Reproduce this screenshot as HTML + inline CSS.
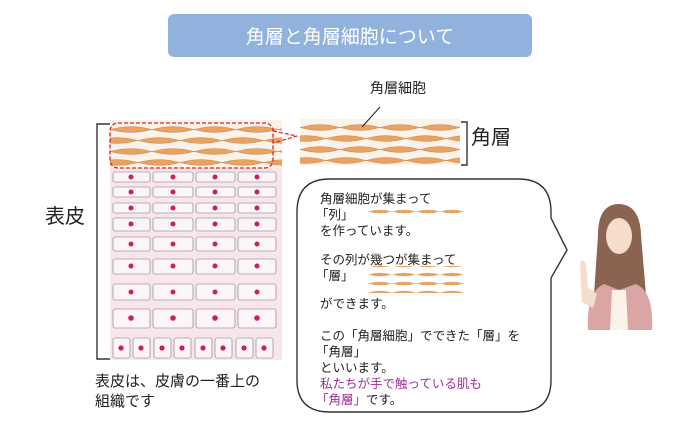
<!DOCTYPE html>
<html><head><meta charset="utf-8"><style>
body{margin:0;background:#fff;width:700px;height:422px;overflow:hidden;font-family:"Liberation Sans","Noto Sans CJK JP",sans-serif}
svg text{font-family:"Liberation Sans","Noto Sans CJK JP",sans-serif}
</style></head><body>
<svg width="700" height="422" viewBox="0 0 700 422" xmlns="http://www.w3.org/2000/svg">
<defs>
<pattern id="pL" x="110" y="124" width="42" height="22" patternUnits="userSpaceOnUse">
<path d="M0 5.5 Q21 -0.5 42 5.5 Q21 11.5 0 5.5Z M28 16.5 Q49 10.5 70 16.5 Q49 22.5 28 16.5Z M-14 16.5 Q7 10.5 28 16.5 Q7 22.5 -14 16.5Z" fill="#e8a262" stroke="#b98050" stroke-width="0.4"/>
</pattern>
<pattern id="pR" x="300" y="122" width="40" height="22" patternUnits="userSpaceOnUse">
<path d="M0 5.5 Q20 -0.5 40 5.5 Q20 11.5 0 5.5Z M26 16.5 Q46 10.5 66 16.5 Q46 22.5 26 16.5Z M-14 16.5 Q6 10.5 26 16.5 Q6 22.5 -14 16.5Z" fill="#e8a262" stroke="#b98050" stroke-width="0.4"/>
</pattern>
<pattern id="pB" x="368" y="0" width="24" height="9" patternUnits="userSpaceOnUse">
<path d="M0 4.5 Q12 1 24 4.5 Q12 8 0 4.5Z" fill="#e8a262"/>
</pattern>
</defs>
<rect x="168" y="14" width="364" height="43" rx="6" fill="#91b2dc"/>
<text x="350" y="43" font-size="19" fill="#fff" text-anchor="middle">角層と角層細胞について</text>
<!-- epidermis -->
<rect x="110" y="168" width="172" height="192" fill="#f9e6ea"/>
<g fill="#fcf5f7" stroke="#777" stroke-width="0.6">
<rect x="113" y="172" width="37" height="10" rx="2"/><rect x="153" y="172" width="40" height="10" rx="2"/><rect x="196" y="172" width="39" height="10" rx="2"/><rect x="238" y="172" width="38" height="10" rx="2"/>
<rect x="113" y="187" width="37" height="10" rx="2"/><rect x="153" y="187" width="40" height="10" rx="2"/><rect x="196" y="187" width="39" height="10" rx="2"/><rect x="238" y="187" width="38" height="10" rx="2"/>
<rect x="113" y="203" width="37" height="10" rx="2"/><rect x="153" y="203" width="40" height="10" rx="2"/><rect x="196" y="203" width="39" height="10" rx="2"/><rect x="238" y="203" width="38" height="10" rx="2"/>
<rect x="113" y="218" width="37" height="13" rx="2"/><rect x="153" y="218" width="40" height="13" rx="2"/><rect x="196" y="218" width="39" height="13" rx="2"/><rect x="238" y="218" width="38" height="13" rx="2"/>
<rect x="113" y="237" width="37" height="14" rx="2"/><rect x="153" y="237" width="40" height="14" rx="2"/><rect x="196" y="237" width="39" height="14" rx="2"/><rect x="238" y="237" width="38" height="14" rx="2"/>
<rect x="113" y="259" width="37" height="15" rx="2"/><rect x="153" y="259" width="40" height="15" rx="2"/><rect x="196" y="259" width="39" height="15" rx="2"/><rect x="238" y="259" width="38" height="15" rx="2"/>
<rect x="113" y="284" width="37" height="16" rx="2"/><rect x="153" y="284" width="40" height="16" rx="2"/><rect x="196" y="284" width="39" height="16" rx="2"/><rect x="238" y="284" width="38" height="16" rx="2"/>
<rect x="113" y="309" width="37" height="19" rx="2"/><rect x="153" y="309" width="40" height="19" rx="2"/><rect x="196" y="309" width="39" height="19" rx="2"/><rect x="238" y="309" width="38" height="19" rx="2"/>
<rect x="113" y="338" width="17" height="20" rx="2"/><rect x="133" y="338" width="17" height="20" rx="2"/><rect x="154" y="338" width="17" height="20" rx="2"/><rect x="174" y="338" width="17" height="20" rx="2"/><rect x="195" y="338" width="17" height="20" rx="2"/><rect x="215" y="338" width="17" height="20" rx="2"/><rect x="236" y="338" width="17" height="20" rx="2"/><rect x="256" y="338" width="17" height="20" rx="2"/>
</g>
<g fill="#c8205f">
<circle cx="131" cy="177" r="2.5"/><circle cx="173" cy="177" r="2.5"/><circle cx="215" cy="177" r="2.5"/><circle cx="257" cy="177" r="2.5"/>
<circle cx="131" cy="192" r="2.5"/><circle cx="173" cy="192" r="2.5"/><circle cx="215" cy="192" r="2.5"/><circle cx="257" cy="192" r="2.5"/>
<circle cx="131" cy="208" r="2.5"/><circle cx="173" cy="208" r="2.5"/><circle cx="215" cy="208" r="2.5"/><circle cx="257" cy="208" r="2.5"/>
<circle cx="131" cy="224" r="2.5"/><circle cx="173" cy="224" r="2.5"/><circle cx="215" cy="224" r="2.5"/><circle cx="257" cy="224" r="2.5"/>
<circle cx="131" cy="244" r="2.5"/><circle cx="173" cy="244" r="2.5"/><circle cx="215" cy="244" r="2.5"/><circle cx="257" cy="244" r="2.5"/>
<circle cx="131" cy="266" r="2.5"/><circle cx="173" cy="266" r="2.5"/><circle cx="215" cy="266" r="2.5"/><circle cx="257" cy="266" r="2.5"/>
<circle cx="131" cy="292" r="2.5"/><circle cx="173" cy="292" r="2.5"/><circle cx="215" cy="292" r="2.5"/><circle cx="257" cy="292" r="2.5"/>
<circle cx="131" cy="318" r="2.8"/><circle cx="173" cy="318" r="2.8"/><circle cx="215" cy="318" r="2.8"/><circle cx="257" cy="318" r="2.8"/>
<circle cx="121" cy="348" r="2.6"/><circle cx="141" cy="348" r="2.6"/><circle cx="162" cy="348" r="2.6"/><circle cx="182" cy="348" r="2.6"/><circle cx="203" cy="348" r="2.6"/><circle cx="223" cy="348" r="2.6"/><circle cx="244" cy="348" r="2.6"/><circle cx="264" cy="348" r="2.6"/>
</g>
<rect x="110" y="120" width="172" height="48" fill="#fbf3ea"/>
<rect x="110" y="124" width="172" height="44" fill="url(#pL)"/>
<rect x="110" y="123" width="163" height="45" rx="8" fill="none" stroke="#d22" stroke-width="1.3" stroke-dasharray="4,2"/>
<path d="M273 131 L297 136 L273 143" fill="none" stroke="#d22" stroke-width="1.2" stroke-dasharray="4,2"/>
<path d="M110 124 H97 V359 H110" fill="none" stroke="#333" stroke-width="1.4"/>
<text x="45" y="223" font-size="20" fill="#222">表皮</text>
<text x="95" y="386" font-size="15" fill="#222">表皮は、皮膚の一番上の</text>
<text x="95" y="406" font-size="15" fill="#222">組織です</text>
<!-- right corneum -->
<rect x="300" y="119" width="160" height="46" fill="#fbf3ea"/>
<rect x="300" y="122" width="160" height="44" fill="url(#pR)"/>
<path d="M461 122 H467 V165 H461" fill="none" stroke="#333" stroke-width="1.4"/>
<text x="471" y="144" font-size="20" fill="#222">角層</text>
<text x="370" y="93" font-size="14" fill="#222">角層細胞</text>
<line x1="380" y1="107" x2="362" y2="127" stroke="#222" stroke-width="1"/>
<!-- bubble -->
<path d="M330 179 H518 Q551 179 551 212 V218 L567 250 L551 278 V380 Q551 412 518 412 H330 Q297 412 297 380 V212 Q297 179 330 179 Z" fill="#fff" stroke="#333" stroke-width="1.4"/>
<g font-size="12.5" fill="#222">
<text x="320" y="203">角層細胞が集まって</text>
<text x="316" y="219">「列」</text>
<text x="320" y="235">を作っています。</text>
<text x="320" y="264">その列が幾つが集まって</text>
<text x="316" y="280">「層」</text>
<text x="320" y="308">ができます。</text>
<text x="320" y="340">この「角層細胞」でできた「層」を</text>
<text x="316" y="356">「角層」</text>
<text x="320" y="372">といいます。</text>
<text x="320" y="388" fill="#a02c9c">私たちが手で触っている肌も</text>
<text x="316" y="404" fill="#a02c9c">「角層」<tspan fill="#222">です。</tspan></text>
</g>
<rect x="368" y="209" width="96" height="9" fill="url(#pB)"/>
<rect x="368" y="266" width="96" height="27" fill="url(#pB)"/>
<!-- woman -->
<g>
<path d="M598 235 Q598 205 618 204 Q640 204 641 235 L646 295 L594 295 Z" fill="#8a6450"/>
<ellipse cx="619" cy="236" rx="13" ry="18" fill="#f6dccb"/>
<path d="M588 330 Q586 292 604 284 L619 290 L636 284 Q654 292 652 330 Z" fill="#d9a6a3"/>
<path d="M612 290 L626 290 L628 330 L610 330 Z" fill="#fbf3ea"/>
<path d="M580 265 Q582 255 586 265 L588 288 L597 294 L593 308 L582 302 Z" fill="#f6dccb"/>
</g>
</svg>
</body></html>
